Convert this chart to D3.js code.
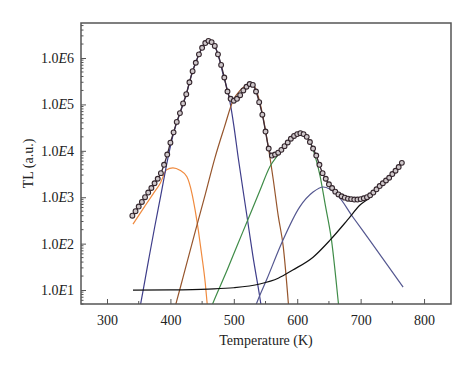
<!DOCTYPE html>
<html>
<head>
<meta charset="utf-8">
<script src="https://cdn.jsdelivr.net/npm/d3@7"></script>
<style>
  body { margin: 0; background: #fff; }
  text { font-family: "Liberation Serif", "DejaVu Serif", serif; fill: #222; }
</style>
</head>
<body>
<script>
// measured glow curve (temperature in K, TL in a.u.)
const temps = d3.range(340, 766, 5);
const tl = [400, 500, 630, 790, 1000, 1260, 1580, 2000, 2500, 3300,
  5000, 8300, 1.5e4, 2.5e4, 4.2e4, 6.5e4, 1.05e5, 1.66e5, 3.0e5, 5.2e5,
  7.9e5, 1.2e6, 1.66e6, 2.1e6, 2.34e6, 2.2e6, 1.82e6, 1.2e6, 7.1e5, 3.8e5,
  1.9e5, 1.32e5, 1.2e5, 1.32e5, 1.58e5, 2.0e5, 2.4e5, 2.75e5, 2.63e5, 1.9e5,
  1.12e5, 6.0e4, 2.6e4, 1.12e4, 7900, 8300, 9100, 1.05e4, 1.26e4, 1.51e4,
  1.82e4, 2.09e4, 2.29e4, 2.4e4, 2.29e4, 2.0e4, 1.55e4, 1.12e4, 7900, 5000,
  3300, 2500, 1900, 1580, 1320, 1150, 1050, 980, 930, 910,
  890, 890, 910, 950, 1000, 1100, 1260, 1480, 1740, 2000,
  2290, 2630, 3160, 3720, 4470, 5500];

// fitted components
const peak1T = [341, 360, 373, 384, 394, 404, 415, 426, 434, 439, 444, 449, 455, 458, 462];
const peak1 = [263, 650, 1200, 2000, 3900, 4300, 3800, 2750, 1200, 525, 195, 62, 14, 5, 1.5];

const peak2T = [350, 353, 365, 375, 385, 396, 405, 415, 425, 435, 445, 455, 461, 467, 475, 483, 490, 494, 500, 507, 521, 530, 541, 546];
const peak2 = [3.1, 5, 40, 220, 1120, 6900, 2.4e4, 6.4e4, 1.65e5, 5.2e5, 1.2e6, 2.09e6, 2.34e6, 2.1e6, 1.2e6, 4.5e5, 2.0e5, 1.12e5, 3.5e4, 7000, 370, 55, 7, 2.5];

const peak3T = [405, 409, 420, 439, 455, 470, 485, 499, 510, 518, 526, 533, 540, 546, 552, 562, 570, 578, 586, 590];
const peak3 = [3.3, 5.2, 19, 180, 1150, 6900, 3.2e4, 1.23e5, 2.0e5, 2.5e5, 2.8e5, 2.4e5, 1.26e5, 5.4e4, 1.9e4, 2500, 400, 85, 5.2, 1];

const peak4T = [463, 467, 490, 505, 521, 541, 557, 570, 580, 590, 600, 607, 615, 620, 628, 636, 644, 654, 665, 669];
const peak4 = [3.8, 5.2, 28, 89, 300, 1380, 4600, 8300, 1.26e4, 1.8e4, 2.2e4, 2.3e4, 1.95e4, 1.58e4, 7900, 2900, 710, 120, 5.1, 1.5];

const peak5T = [533, 536, 552, 576, 604, 625, 641, 663, 688, 715, 742, 767];
const peak5 = [4, 5.2, 17, 107, 620, 1290, 1660, 1120, 370, 115, 35, 11.5];

const bgT = [341, 400, 460, 500, 541, 570, 593, 625, 652, 679, 699, 715, 730, 745, 765];
const bg = [10, 10.1, 10.5, 11.2, 13.5, 18, 27, 51, 120, 320, 680, 1000, 1650, 2600, 5300];

const xTicks = [300, 400, 500, 600, 700, 800];
const yTicks = [1e1, 1e2, 1e3, 1e4, 1e5, 1e6];
const yTickLabels = ['1.0E1', '1.0E2', '1.0E3', '1.0E4', '1.0E5', '1.0E6'];

const components = [
  { t: peak1T, v: peak1, color: '#f08a3e' },
  { t: peak2T, v: peak2, color: '#3e3d8a' },
  { t: peak3T, v: peak3, color: '#96552c' },
  { t: peak4T, v: peak4, color: '#3f8c48' },
  { t: peak5T, v: peak5, color: '#545790' },
  { t: bgT, v: bg, color: '#111' }
];

const width = 474, height = 370;
const margin = { top: 23, right: 23, bottom: 66, left: 81 };

const svg = d3.select('body').append('svg')
  .attr('width', width)
  .attr('height', height);

const x = d3.scaleLinear().domain([259, 842.5]).range([margin.left, width - margin.right]);
const y = d3.scaleLog().domain([5, 5.68e6]).range([height - margin.bottom, margin.top]);

svg.append('clipPath').attr('id', 'plot')
  .append('rect')
  .attr('x', margin.left).attr('y', margin.top)
  .attr('width', width - margin.left - margin.right)
  .attr('height', height - margin.top - margin.bottom);

const g = svg.append('g').attr('clip-path', 'url(#plot)');

const line = d3.line()
  .x(d => x(d[0]))
  .y(d => y(d[1]))
  .curve(d3.curveMonotoneX);

// component curves
components.forEach(c => {
  g.append('path')
    .datum(d3.zip(c.t, c.v))
    .attr('fill', 'none')
    .attr('stroke', c.color)
    .attr('stroke-width', 1.2)
    .attr('d', line);
});

// fit through data
const pts = d3.zip(temps, tl);
g.append('path')
  .datum(pts)
  .attr('fill', 'none')
  .attr('stroke', '#3b2a36')
  .attr('stroke-width', 1.3)
  .attr('d', line);

g.append('g').selectAll('circle')
  .data(pts)
  .join('circle')
  .attr('cx', d => x(d[0]))
  .attr('cy', d => y(d[1]))
  .attr('r', 2.4)
  .attr('fill', '#cfc8cb')
  .attr('stroke', '#34262d')
  .attr('stroke-width', 1.1);

// axes with inward ticks
const xAxis = d3.axisBottom(x)
  .tickValues(xTicks)
  .tickSizeInner(-5)
  .tickSizeOuter(0)
  .tickPadding(11)
  .tickFormat(d3.format('d'));

const xa = svg.append('g')
  .attr('transform', `translate(0,${height - margin.bottom})`)
  .call(xAxis);
xa.select('.domain').remove();
xa.selectAll('text').attr('font-size', 14).attr('font-family', '"Liberation Serif", serif').attr('fill', '#222');
xa.selectAll('line').attr('stroke', '#555');

// x minor ticks
svg.append('g').selectAll('line')
  .data([350, 450, 550, 650, 750])
  .join('line')
  .attr('x1', d => x(d)).attr('x2', d => x(d))
  .attr('y1', height - margin.bottom).attr('y2', height - margin.bottom - 3)
  .attr('stroke', '#555');

const yAxis = d3.axisLeft(y)
  .tickValues(yTicks)
  .tickSizeInner(-5)
  .tickSizeOuter(0)
  .tickPadding(7)
  .tickFormat(() => '');

const ya = svg.append('g')
  .attr('transform', `translate(${margin.left},0)`)
  .call(yAxis);
ya.select('.domain').remove();
ya.selectAll('line').attr('stroke', '#555');

// labels like 1.0E6 with italic E
ya.selectAll('.tick text').each(function(d, i) {
  const t = d3.select(this)
    .attr('font-size', 14)
    .attr('font-family', '"Liberation Serif", serif')
    .attr('fill', '#222');
  const s = yTickLabels[i];
  t.append('tspan').text(s.slice(0, 3));
  t.append('tspan').attr('font-style', 'italic').text('E');
  t.append('tspan').text(s.slice(4));
});

// y minor ticks
const minor = [];
for (let e = 0; e <= 6; e++) {
  for (let m = 2; m <= 9; m++) {
    const v = m * Math.pow(10, e);
    if (v >= 5 && v <= 5.68e6) minor.push(v);
  }
}
svg.append('g').selectAll('line')
  .data(minor)
  .join('line')
  .attr('x1', margin.left).attr('x2', margin.left + 2.5)
  .attr('y1', d => y(d)).attr('y2', d => y(d))
  .attr('stroke', '#555');

// frame
svg.append('rect')
  .attr('x', margin.left).attr('y', margin.top)
  .attr('width', width - margin.left - margin.right)
  .attr('height', height - margin.top - margin.bottom)
  .attr('fill', 'none')
  .attr('stroke', '#555')
  .attr('stroke-width', 1.5);

svg.append('text')
  .attr('x', (margin.left + width - margin.right) / 2)
  .attr('y', 345)
  .attr('text-anchor', 'middle')
  .attr('font-size', 14)
  .text('Temperature (K)');

svg.append('text')
  .attr('transform', `translate(33,${(margin.top + height - margin.bottom) / 2}) rotate(-90)`)
  .attr('text-anchor', 'middle')
  .attr('font-size', 14)
  .text('TL (a.u.)');
</script>
</body>
</html>
